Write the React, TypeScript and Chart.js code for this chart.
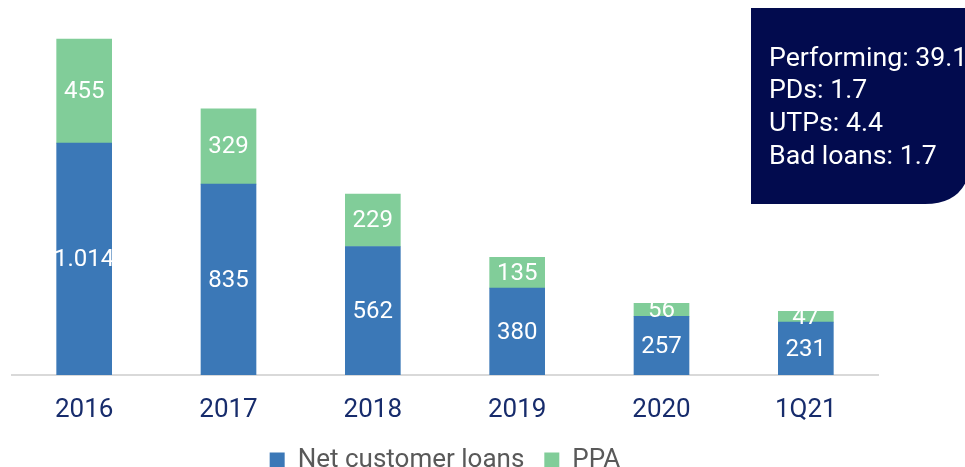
import React, { useEffect, useRef } from "react";
import { Chart, registerables } from "chart.js";

Chart.register(...registerables);

const categories = ["2016", "2017", "2018", "2019", "2020", "1Q21"];
const netCustomerLoans = [1014, 835, 562, 380, 257, 231];
const ppa = [455, 329, 229, 135, 56, 47];
const boxLines = ["Performing: 39.1", "PDs: 1.7", "UTPs: 4.4", "Bad loans: 1.7"];

const fmt = (v: number) => v.toString().replace(/\B(?=(\d{3})+(?!\d))/g, ".");

const labelPlugin = {
  id: "segLabels",
  afterDatasetsDraw(chart: any) {
    const ctx = chart.ctx;
    ctx.save();
    ctx.font = "24px Roboto";
    ctx.fillStyle = "#ffffff";
    ctx.textAlign = "center";
    ctx.textBaseline = "middle";
    chart.data.datasets.forEach((ds: any, i: number) => {
      const meta = chart.getDatasetMeta(i);
      meta.data.forEach((bar: any, j: number) => {
        const y = (bar.y + bar.base) / 2;
        ctx.fillText(fmt(ds.data[j]), bar.x, y + 1);
      });
    });
    ctx.restore();
  },
};

const layoutTweak = {
  id: "layoutTweak",
  afterLayout(chart: any) {
    const lg = chart.legend;
    if (lg) {
      lg.top += 16;
      lg.bottom += 16;
    }
    const xs = chart.scales.x;
    if (xs) xs.bottom = chart.height;
  },
};

const boxPlugin = {
  id: "infoBox",
  afterDraw(chart: any) {
    const ctx = chart.ctx;
    ctx.save();
    ctx.fillStyle = "#020b4e";
    const x = 751, y = 8, w = 220, h = 196, r = 42;
    ctx.beginPath();
    ctx.moveTo(x, y);
    ctx.lineTo(x + w, y);
    ctx.lineTo(x + w, y + h - r);
    ctx.quadraticCurveTo(x + w - 4, y + h, x + w - r - 4, y + h);
    ctx.lineTo(x, y + h);
    ctx.closePath();
    ctx.fill();
    ctx.font = "26.7px Roboto";
    ctx.fillStyle = "#ffffff";
    ctx.textAlign = "left";
    ctx.textBaseline = "middle";
    boxLines.forEach((t, i) => {
      ctx.fillText(t, 769, 59 + i * 32.7);
    });
    ctx.restore();
  },
};

export default function App() {
  const ref = useRef<HTMLCanvasElement>(null);
  useEffect(() => {
    document.body.style.margin = "0";
    const chart = new Chart(ref.current!, {
      type: "bar",
      data: {
        labels: categories,
        datasets: [
          { label: "Net customer loans", data: netCustomerLoans, backgroundColor: "#3b78b7", barThickness: 55 },
          { label: "PPA", data: ppa, backgroundColor: "#81cd99", barThickness: 55 },
        ],
      },
      options: {
        animation: false,
        responsive: false,
        layout: { padding: { left: 12, right: 87, top: 0, bottom: 0 } },
        plugins: {
          tooltip: { enabled: false },
          legend: {
            position: "bottom",
            labels: {
              boxWidth: 15,
              boxHeight: 15,
              color: "#595959",
              font: { family: "Roboto", size: 26 },
              padding: 20,
            },
          },
        },
        scales: {
          x: {
            stacked: true,
            grid: { display: false, drawTicks: false },
            border: { display: true, color: "#d9d9d9", width: 2 },
            ticks: { color: "#172c6c", font: { family: "Roboto", size: 26 }, padding: 20 },
            afterFit: (scale: any) => {
              scale.height = 36;
            },
          },
          y: {
            stacked: true,
            display: false,
            min: 0,
            max: 1640,
          },
        },
      },
      plugins: [labelPlugin, layoutTweak, boxPlugin],
    });
    return () => chart.destroy();
  }, []);
  return <canvas ref={ref} width={965} height={467} style={{ display: "block" }} />;
}
